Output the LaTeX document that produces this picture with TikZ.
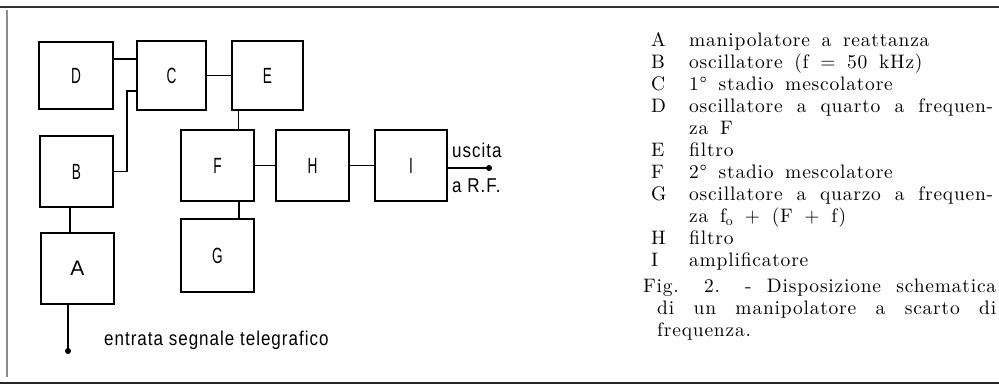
\documentclass[tikz,border=0pt]{standalone}
\usepackage{fontspec}
\newfontfamily\legfont{lmroman10-regular.otf}[LetterSpace=4,WordSpace=1.6]
\newfontfamily\legletters{lmroman10-regular.otf}
\newfontfamily\diagfont{Liberation Sans}[FakeStretch=0.85,LetterSpace=5]
\newfontfamily\afont{Liberation Sans}
\newfontfamily\boxfont{Liberation Sans}[FakeStretch=0.62]
\begin{document}
\begin{tikzpicture}[x=1pt,y=-1pt,
  box/.style={draw, line width=1.5pt, inner sep=0pt, font=\boxfont\fontsize{22}{22}\selectfont},
  wire/.style={line width=1.5pt},
  dot/.style={circle, fill, inner sep=0pt, minimum size=6pt},
  dtext/.style={inner sep=0pt, anchor=base west, font=\diagfont\fontsize{20}{20}\selectfont},
  leg/.style={inner sep=0pt, anchor=base west, font=\legfont\fontsize{19.5}{22}\selectfont},
  legl/.style={inner sep=0pt, anchor=base west, font=\legletters\fontsize{19.5}{22}\selectfont},
  rule/.style={line width=1.5pt, black!80}]
\useasboundingbox (0,0) rectangle (999,386);
% frame rules
\draw[rule] (0,7) -- (999,7);
\draw[line width=2.5pt, black!85] (0,383) -- (999,383);
\draw[line width=2pt, black!45] (7,10) -- (7,377);
% boxes
\node[box, minimum width=74pt, minimum height=67pt] (D) at (76,75.5) {D};
\node[box, minimum width=69pt, minimum height=69pt] (C) at (171.5,75.5) {C};
\node[box, minimum width=71pt, minimum height=69pt] (E) at (267.5,75.5) {E};
\node[box, minimum width=73pt, minimum height=71pt] (B) at (76.5,171.5) {B};
\node[box, minimum width=73pt, minimum height=71pt] (F) at (217.5,165.5) {F};
\node[box, minimum width=73pt, minimum height=71pt] (H) at (312.5,165.5) {H};
\node[box, minimum width=72pt, minimum height=71pt] (I) at (411,165.5) {I};
\node[box, minimum width=73pt, minimum height=73pt] (G) at (217.5,255.5) {G};
\node[box, minimum width=73pt, minimum height=71pt, font=\afont\fontsize{21}{21}\selectfont] (A) at (77.5,268.5) {A};
% connectors
\coordinate (d1) at ([yshift=16.5pt]D.east);
\draw[wire] (d1) -- (d1 -| C.west);
\coordinate (c1) at ([yshift=-15.5pt]C.west);
\draw[wire] (B.east) -| (127,0 |- c1) -- (c1);
\draw[wire] (C.east) -- (E.west);
\coordinate (ef) at ([xshift=7pt]E.south west);
\draw[wire] (ef) -- (ef |- F.north);
\draw[wire] (F.east) -- (H.west);
\draw[wire] (H.east) -- (I.west);
\coordinate (fg) at ([xshift=21.5pt]F.south);
\draw[wire] (fg) -- (fg |- G.north);
\coordinate (ba) at ([xshift=-6.5pt]B.south);
\draw[wire] (ba) -- (ba |- A.north);
\node[dot] (out) at (489,168) {};
\draw[wire] ([yshift=-2.5pt]I.east) -- (out.center);
\node[dot] (in) at (68,351) {};
\draw[wire] (in.center |- A.south) -- (in.center);
% diagram labels
\node[dtext] (usc) at (452,157) {uscita};
\node[dtext] (arf) at (452,192) {a R.F.};
\node[dtext] (ent) at (104,345) {entrata segnale telegrafico};
% legend
\node[legl] (lA) at (651,46) {A};
\node[legl] (lB) at (651,68) {B};
\node[legl] (lC) at (651,90) {C};
\node[legl] (lD) at (651,112) {D};
\node[legl] (lE) at (651,156) {E};
\node[legl] (lF) at (651,178) {F};
\node[legl] (lG) at (651,200) {G};
\node[legl] (lH) at (651,244) {H};
\node[legl] (lI) at (651,266) {I};
\node[leg] (tA) at (689,46) {manipolatore a reattanza};
\node[leg] (tB) at (689,68) {oscillatore (f = 50 kHz)};
\node[leg] (tC) at (689,90) {1° stadio mescolatore};
\node[leg] (tD) at (689,112) {\makebox[304pt][s]{oscillatore a quarto a frequen-}};
\node[leg] (tD2) at (689,134) {za F};
\node[leg] (tE) at (689,156) {filtro};
\node[leg] (tF) at (689,178) {2° stadio mescolatore};
\node[leg] (tG) at (689,200) {\makebox[304pt][s]{oscillatore a quarzo a frequen-}};
\node[leg] (tG2) at (689,222) {za f\textsubscript{o} + (F + f)};
\node[leg] (tH) at (689,244) {filtro};
\node[leg] (tI) at (689,266) {amplificatore};
\node[leg] (cap1) at (643,292) {\makebox[353pt][s]{Fig. 2. - Disposizione schematica}};
\node[leg] (cap2) at (657,314) {\makebox[339pt][s]{di un manipolatore a scarto di}};
\node[leg] (cap3) at (657,336) {frequenza.};
\end{tikzpicture}
\end{document}
